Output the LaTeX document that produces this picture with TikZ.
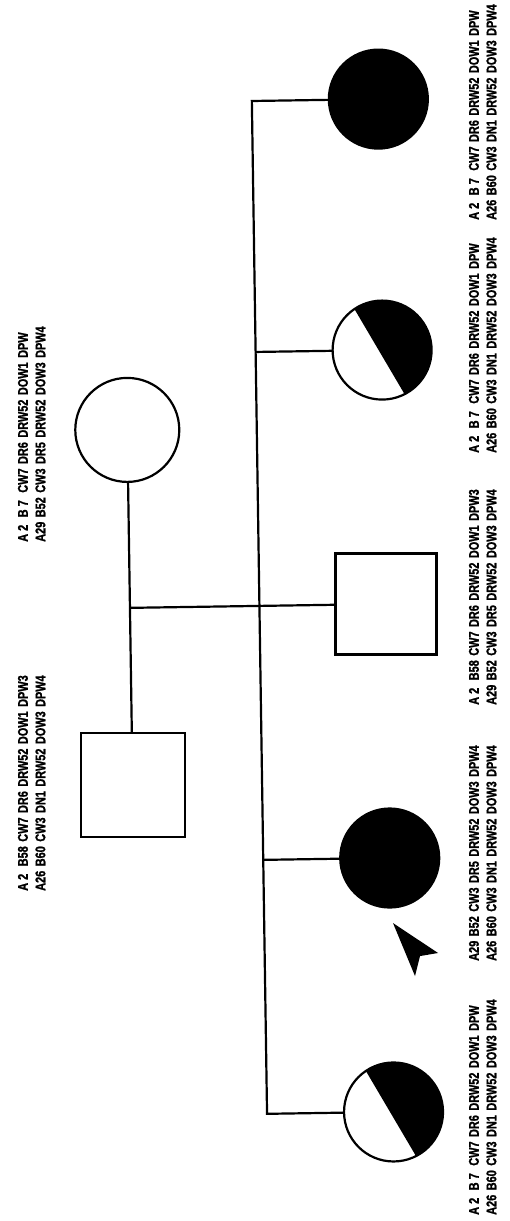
\documentclass[tikz,border=0pt]{standalone}
\usepackage{fontspec}
\newfontfamily\hlafont{Liberation Sans}[FakeStretch=0.78, BoldFeatures={FakeBold=1.2}]
\newcommand\typing[2]{\begin{tabular}{@{}l*{6}{@{\hspace{4.5pt}}l}@{}}#1\\#2\end{tabular}}

\begin{document}
\begin{tikzpicture}[x=1pt, y=1pt, line width=2.2pt,
  person/.style={draw, line width=2.2pt, inner sep=0pt, outer sep=0pt},
  male/.style={person, rectangle, minimum size=101pt},
  female/.style={person, circle, minimum size=99pt},
  affected/.style={fill=black},
  halfshade/.style={path picture={\fill (path picture bounding box.center) ++(124:49.5pt) arc[start angle=124, end angle=-63, radius=49.5pt] -- cycle;}},
  hla/.style={rotate=90, inner sep=0pt, font=\hlafont\bfseries\fontsize{14}{17.5}\selectfont}]
  \useasboundingbox (0,-1221) rectangle (510,0);
  \begin{scope}[rotate around={0.86:(255,-610)}]
    % Parents
    \node[female, minimum size=104pt] (mother) at (130,-428) {};
    \node[male, minimum size=104pt] (father) at (130,-783) {};
    \draw (mother) -- (father);
    \coordinate (desc) at (130,-606);
    % Children
    \node[female, affected] (sis1) at (386,-101) {};
    \node[female, halfshade] (sis2) at (386,-352) {};
    \node[male] (son) at (386,-606) {};
    \node[female, affected] (proband) at (386,-860) {};
    \node[female, halfshade] (sis3) at (386,-1114) {};
    \coordinate (sib) at (259.5,-1114);
    \draw (desc) -- (son);
    \draw (sis1) -| (sib) -- (sis3);
    \foreach \c in {sis2, proband} \draw (\c) -- (\c -| sib);
    % Proband arrow
    \fill (388.3,-925.1) -- (432.9,-955.7) -- (414.8,-958.5) -- (409.5,-978.4) -- cycle;
  \end{scope}
  % HLA typings
  \node[hla] (t-mother) at (33,-434) {\typing{A 2&B 7&CW7&DR6&DRW52&DOW1&DPW}{A29&B52&CW3&DR5&DRW52&DOW3&DPW4}};
  \node[hla] (t-father) at (33,-783) {\typing{A 2&B58&CW7&DR6&DRW52&DOW1&DPW3}{A26&B60&CW3&DN1&DRW52&DOW3&DPW4}};
  \node[hla] (t-sis1) at (484,-112) {\typing{A 2&B 7&CW7&DR6&DRW52&DOW1&DPW}{A26&B60&CW3&DN1&DRW52&DOW3&DPW4}};
  \node[hla] (t-sis2) at (484,-345) {\typing{A 2&B 7&CW7&DR6&DRW52&DOW1&DPW}{A26&B60&CW3&DN1&DRW52&DOW3&DPW4}};
  \node[hla] (t-son) at (484,-597) {\typing{A 2&B58&CW7&DR6&DRW52&DOW1&DPW3}{A29&B52&CW3&DR5&DRW52&DOW3&DPW4}};
  \node[hla] (t-proband) at (484,-853) {\typing{A29&B52&CW3&DR5&DRW52&DOW3&DPW4}{A26&B60&CW3&DN1&DRW52&DOW3&DPW4}};
  \node[hla] (t-sis3) at (484,-1107) {\typing{A 2&B 7&CW7&DR6&DRW52&DOW1&DPW}{A26&B60&CW3&DN1&DRW52&DOW3&DPW4}};
\end{tikzpicture}
\end{document}
